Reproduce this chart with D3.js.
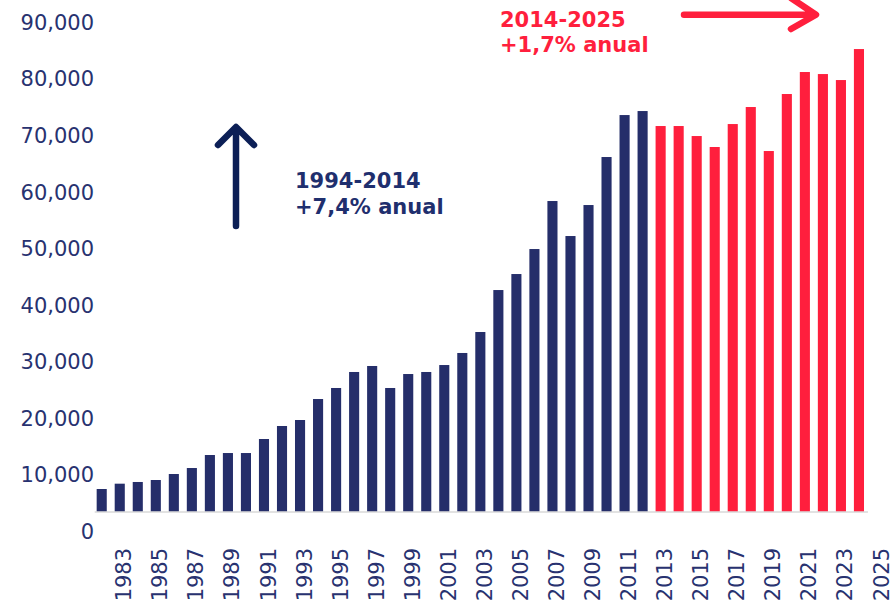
<!doctype html>
<html lang="es">
    <head>
        <meta charset="utf-8">
        <title>Serie anual 1982-2024</title>
        <script src="https://cdn.jsdelivr.net/npm/d3@7/dist/d3.min.js"></script>
        <style>
        body { margin: 0; background: #fff; }
        svg { display: block; font-family: "DejaVu Sans", Verdana, sans-serif; }
        .axis text { fill: #283270; font-size: 21px; font-family: "DejaVu Sans", Verdana, sans-serif; }
        </style>
    </head>
    <body>
    </body>
<script>

// Data
var years = d3.range(1982, 2025);
var values = [
  7550, 8490, 8790, 9140, 10200, 11260, 13560, 13910, 13910,
  16390, 18690, 19750, 23460, 25410, 28240, 29300, 25410, 27880,
  28240, 29470, 31600, 35310, 42730, 45560, 49980, 58470, 52280,
  57760, 66250, 73670, 74380,
  71730, 71730, 69960, 68020, 72080, 75090, 67310, 77390, 81280,
  80920, 79860, 85340
];
var tickYears = d3.range(1983, 2026, 2);
var yTicks = d3.range(0, 90001, 10000);
var splitYear = 2013;
var noteBlue = ["1994-2014", "+7,4% anual"];
var noteRed = ["2014-2025", "+1,7% anual"];

var dataset = years.map(function(y, i) { return {year: y, value: values[i]}; });

// Graphics
var outerWidth = 893;
var outerHeight = 607;
var navy = "#252e6a";
var red = "#ff1f3d";
var axisCross = 3500;

var svg = d3.select("body").append("svg")
  .attr("width", outerWidth)
  .attr("height", outerHeight);

// Scales
var xScale = d3.scaleBand()
  .domain(d3.range(1982, 2026))
  .range([92.7, 886])
  .paddingInner(0.44)
  .paddingOuter(0.22);

var yScale = d3.scaleLinear()
  .domain([0, 90000])
  .range([531.7, 22.7]);

var baseY = yScale(axisCross);

// Bars
svg.selectAll("rect.bar")
  .data(dataset)
  .enter()
  .append("rect")
  .attr("class", "bar")
  .attr("x", function(d) { return xScale(d.year); })
  .attr("width", xScale.bandwidth())
  .attr("y", function(d) { return yScale(d.value); })
  .attr("height", function(d) { return baseY - yScale(d.value); })
  .attr("fill", function(d) { return d.year >= splitYear ? red : navy; });

// Axis line
var lastYear = years[years.length - 1];
svg.append("line")
  .attr("x1", xScale.range()[0] + 2)
  .attr("x2", xScale(lastYear) + xScale.bandwidth() / 2 + xScale.step() / 2)
  .attr("y1", baseY)
  .attr("y2", baseY)
  .attr("stroke", "#d9d9d9")
  .attr("stroke-width", 1.5);

// Axis
var yAxis = d3.axisLeft(yScale)
  .tickValues(yTicks)
  .tickFormat(d3.format(","))
  .tickSize(0)
  .tickPadding(0);

svg.append("g")
  .attr("class", "axis y")
  .attr("transform", "translate(94, 0)")
  .call(yAxis)
  .call(function(g) { g.select(".domain").remove(); })
  .attr("font-family", null)
  .selectAll("text")
  .attr("fill", null);

var xAxis = d3.axisBottom(xScale)
  .tickValues(tickYears)
  .tickSize(0);

svg.append("g")
  .attr("class", "axis x")
  .attr("transform", "translate(0, " + baseY + ")")
  .call(xAxis)
  .call(function(g) { g.select(".domain").remove(); })
  .attr("font-family", null)
  .selectAll("text")
  .attr("fill", null)
  .attr("transform", "rotate(-90)")
  .attr("text-anchor", "end")
  .attr("x", -36)
  .attr("y", 4)
  .attr("dy", "0.36em");

// Annotations
function note(lines, x, y, color) {
  var t = svg.append("text")
    .attr("x", x)
    .attr("y", y)
    .attr("fill", color)
    .attr("font-size", 21)
    .attr("font-weight", "bold");
  t.selectAll("tspan")
    .data(lines)
    .enter()
    .append("tspan")
    .attr("x", x)
    .attr("dy", function(d, i) { return i ? 25.5 : 0; })
    .text(function(d) { return d; });
}

note(noteBlue, 295, 188, "#1f2f6e");
note(noteRed, 500, 26.5, red);

// Arrows
svg.append("path")
  .attr("d", "M236,226 L236,128 M218,145 L236,127 L254,145")
  .attr("fill", "none")
  .attr("stroke", "#0c1f56")
  .attr("stroke-width", 6.5)
  .attr("stroke-linecap", "round")
  .attr("stroke-linejoin", "round");

svg.append("path")
  .attr("d", "M684,14.7 L815,14.7 M791,-2 L816,14.7 L791,29")
  .attr("fill", "none")
  .attr("stroke", red)
  .attr("stroke-width", 6.5)
  .attr("stroke-linecap", "round")
  .attr("stroke-linejoin", "round");

</script>
</html>
